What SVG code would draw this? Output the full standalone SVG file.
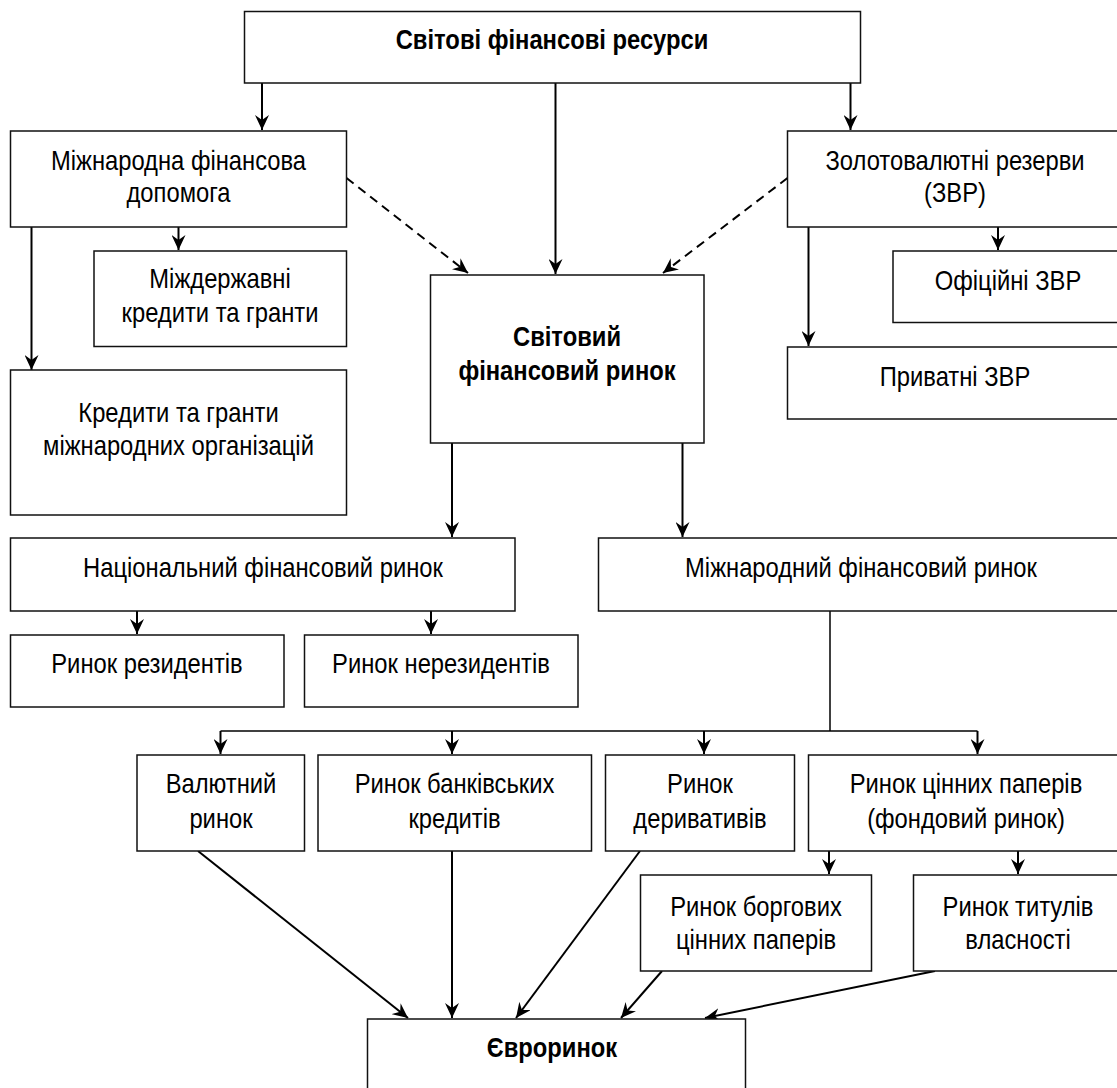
<svg xmlns="http://www.w3.org/2000/svg" width="1117" height="1088" viewBox="0 0 1117 1088">
  <defs>
    <marker id="arrow" viewBox="0 0 15 14" markerWidth="15" markerHeight="14" markerUnits="userSpaceOnUse" refX="15" refY="7" orient="auto">
      <path d="M0,0 L15,7 L0,14 L5,7 Z" fill="#000"/>
    </marker>
  </defs>
  <style>
    .box { fill: #fff; stroke: #111; stroke-width: 1.5; }
    .lbl { font-family: "Liberation Sans Narrow", "Liberation Sans", Arial, sans-serif; font-size: 27px; fill: #000; text-anchor: middle; }
    .b { font-weight: bold; }
    .edge { fill: none; stroke: #000; stroke-width: 2; }
    .arr { marker-end: url(#arrow); }
    .dash { stroke-dasharray: 9 6; }
    .thin { stroke-width: 1.5; }
  </style>
  <rect width="1117" height="1088" fill="#fff"/>

  <g id="connectors">
    <line class="edge arr" x1="262" y1="83" x2="262" y2="130"/>
    <line class="edge arr" x1="555.5" y1="83" x2="555.5" y2="274"/>
    <line class="edge arr" x1="850.5" y1="83" x2="850.5" y2="130"/>
    <line class="edge arr dash" x1="346.5" y1="178" x2="468" y2="273"/>
    <line class="edge arr dash" x1="787.5" y1="178" x2="663" y2="273"/>
    <line class="edge arr" x1="178.5" y1="227" x2="178.5" y2="250"/>
    <line class="edge arr" x1="31.5" y1="227" x2="31.5" y2="370"/>
    <line class="edge arr" x1="998" y1="227" x2="998" y2="250"/>
    <line class="edge arr" x1="808.5" y1="227" x2="808.5" y2="346"/>
    <line class="edge arr" x1="452" y1="443" x2="452" y2="537"/>
    <line class="edge arr" x1="682.5" y1="443" x2="682.5" y2="537"/>
    <line class="edge arr" x1="137" y1="611" x2="137" y2="634"/>
    <line class="edge arr" x1="431" y1="611" x2="431" y2="634"/>
    <line class="edge thin" x1="830" y1="611" x2="830" y2="731"/>
    <line class="edge thin" x1="220.5" y1="731" x2="977.5" y2="731"/>
    <line class="edge arr" x1="220.5" y1="731" x2="220.5" y2="754"/>
    <line class="edge arr" x1="452" y1="731" x2="452" y2="754"/>
    <line class="edge arr" x1="704" y1="731" x2="704" y2="754"/>
    <line class="edge arr" x1="977.5" y1="731" x2="977.5" y2="754"/>
    <line class="edge arr" x1="829" y1="851" x2="829" y2="874"/>
    <line class="edge arr" x1="1018" y1="851" x2="1018" y2="874"/>
    <line class="edge arr" x1="198" y1="851" x2="408" y2="1018"/>
    <line class="edge arr" x1="452" y1="851" x2="452" y2="1018"/>
    <line class="edge arr" x1="640" y1="851" x2="516" y2="1018"/>
    <line class="edge arr" x1="662" y1="971" x2="621" y2="1018"/>
    <line class="edge arr" x1="935" y1="971" x2="705" y2="1018"/>
  </g>

  <!-- labels are set in a condensed face: each line is squeezed horizontally about its centre -->
  <g id="world-resources">
    <rect class="box" x="244.5" y="11.5" width="616" height="71.5"/>
    <text class="lbl b" transform="translate(552 0) scale(0.88 1)" y="49">Світові фінансові ресурси</text>
  </g>
  <g id="intl-aid">
    <rect class="box" x="10.5" y="131" width="336" height="96"/>
    <text class="lbl" transform="translate(178.5 0) scale(0.88 1)" y="170">Міжнародна фінансова</text>
    <text class="lbl" transform="translate(178.5 0) scale(0.88 1)" y="202">допомога</text>
  </g>
  <g id="fx-reserves">
    <rect class="box" x="787.5" y="131" width="340" height="96"/>
    <text class="lbl" transform="translate(955 0) scale(0.88 1)" y="170">Золотовалютні резерви</text>
    <text class="lbl" transform="translate(955 0) scale(0.88 1)" y="202">(ЗВР)</text>
  </g>
  <g id="interstate-credits">
    <rect class="box" x="94" y="251" width="252.5" height="95.5"/>
    <text class="lbl" transform="translate(220 0) scale(0.88 1)" y="288">Міждержавні</text>
    <text class="lbl" transform="translate(220 0) scale(0.88 1)" y="322">кредити та гранти</text>
  </g>
  <g id="official-reserves">
    <rect class="box" x="893" y="251" width="240" height="71.5"/>
    <text class="lbl" transform="translate(1008 0) scale(0.88 1)" y="290">Офіційні ЗВР</text>
  </g>
  <g id="org-credits">
    <rect class="box" x="10.5" y="370" width="336" height="145"/>
    <text class="lbl" transform="translate(178.5 0) scale(0.88 1)" y="422">Кредити та гранти</text>
    <text class="lbl" transform="translate(178.5 0) scale(0.88 1)" y="455">міжнародних організацій</text>
  </g>
  <g id="world-market">
    <rect class="box" x="430.5" y="275" width="273.5" height="168"/>
    <text class="lbl b" transform="translate(567 0) scale(0.88 1)" y="346">Світовий</text>
    <text class="lbl b" transform="translate(567 0) scale(0.88 1)" y="380">фінансовий ринок</text>
  </g>
  <g id="private-reserves">
    <rect class="box" x="787.5" y="347" width="340" height="72"/>
    <text class="lbl" transform="translate(955 0) scale(0.88 1)" y="386">Приватні ЗВР</text>
  </g>
  <g id="national-market">
    <rect class="box" x="10.5" y="538" width="504.5" height="73"/>
    <text class="lbl" transform="translate(263 0) scale(0.88 1)" y="577">Національний фінансовий ринок</text>
  </g>
  <g id="intl-market">
    <rect class="box" x="598.5" y="538" width="530" height="73"/>
    <text class="lbl" transform="translate(861 0) scale(0.88 1)" y="577">Міжнародний фінансовий ринок</text>
  </g>
  <g id="residents">
    <rect class="box" x="10.5" y="635" width="273.5" height="72"/>
    <text class="lbl" transform="translate(147 0) scale(0.88 1)" y="673">Ринок резидентів</text>
  </g>
  <g id="non-residents">
    <rect class="box" x="304.5" y="635" width="273.5" height="72"/>
    <text class="lbl" transform="translate(441 0) scale(0.88 1)" y="673">Ринок нерезидентів</text>
  </g>
  <g id="currency-market">
    <rect class="box" x="137" y="755" width="167.5" height="96"/>
    <text class="lbl" transform="translate(221 0) scale(0.88 1)" y="793">Валютний</text>
    <text class="lbl" transform="translate(221 0) scale(0.88 1)" y="828">ринок</text>
  </g>
  <g id="bank-credit-market">
    <rect class="box" x="318" y="755" width="273.5" height="96"/>
    <text class="lbl" transform="translate(454.5 0) scale(0.88 1)" y="793">Ринок банківських</text>
    <text class="lbl" transform="translate(454.5 0) scale(0.88 1)" y="828">кредитів</text>
  </g>
  <g id="derivatives-market">
    <rect class="box" x="605.5" y="755" width="189" height="96"/>
    <text class="lbl" transform="translate(700 0) scale(0.88 1)" y="793">Ринок</text>
    <text class="lbl" transform="translate(700 0) scale(0.88 1)" y="828">деривативів</text>
  </g>
  <g id="securities-market">
    <rect class="box" x="808.5" y="755" width="320" height="96"/>
    <text class="lbl" transform="translate(966 0) scale(0.88 1)" y="793">Ринок цінних паперів</text>
    <text class="lbl" transform="translate(966 0) scale(0.88 1)" y="828">(фондовий ринок)</text>
  </g>
  <g id="debt-securities">
    <rect class="box" x="640.5" y="875" width="231" height="96"/>
    <text class="lbl" transform="translate(756 0) scale(0.88 1)" y="916">Ринок боргових</text>
    <text class="lbl" transform="translate(756 0) scale(0.88 1)" y="949">цінних паперів</text>
  </g>
  <g id="equity-titles">
    <rect class="box" x="913.5" y="875" width="215" height="96"/>
    <text class="lbl" transform="translate(1018 0) scale(0.88 1)" y="916">Ринок титулів</text>
    <text class="lbl" transform="translate(1018 0) scale(0.88 1)" y="949">власності</text>
  </g>
  <g id="euromarket">
    <rect class="box" x="367.5" y="1019" width="378" height="80"/>
    <text class="lbl b" transform="translate(552 0) scale(0.88 1)" y="1057">Євроринок</text>
  </g>
</svg>
